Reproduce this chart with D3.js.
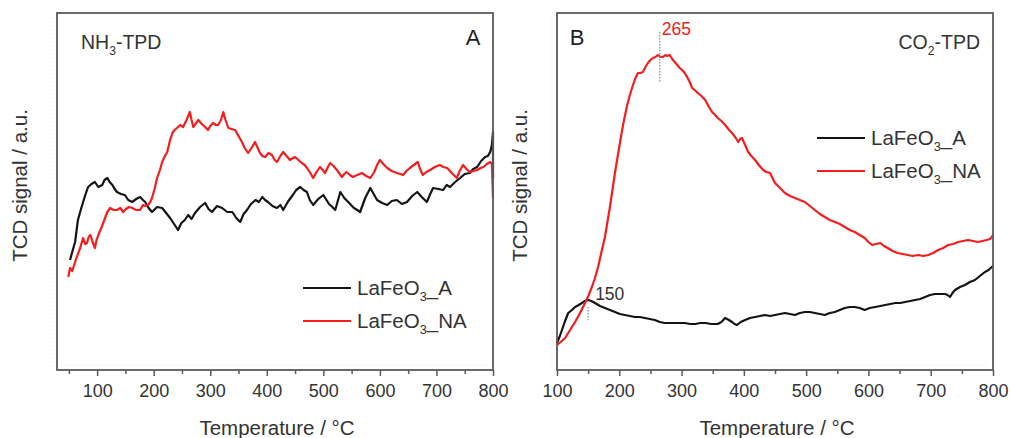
<!DOCTYPE html>
<html>
<head>
<meta charset="utf-8">
<script src="https://cdn.jsdelivr.net/npm/d3@7"></script>
<style>
  body { margin: 0; background: #fff; }
  svg { display: block; font-family: Arial, "Liberation Sans", sans-serif; }
</style>
</head>
<body>
<svg id="chart" width="1010" height="438"></svg>
<script>
// values, signal in arbitrary units (a.u.)
// NH3-TPD, [temperature, signal]
const nh3A = [[52,110],[56,118],[61,128],[66,150],[72,162],[79,175],[84,183],[90,186],[96,188],[102,183],[109,185],[113,190],[118,192],[122,188],[127,185],[131,181],[135,178],[142,176],[149,175],[155,170],[162,168],[169,171],[176,173],[181,170],[185,168],[191,162],[197,158],[206,163],[215,162],[222,157],[229,152],[236,146],[243,140],[249,147],[255,150],[261,155],[267,151],[273,157],[282,163],[291,167],[297,161],[303,158],[312,164],[321,162],[330,158],[339,158],[346,152],[353,148],[359,156],[365,160],[372,166],[380,170],[386,168],[392,173],[397,170],[402,168],[410,164],[418,162],[424,165],[429,160],[437,168],[446,175],[452,180],[459,183],[465,180],[471,178],[476,170],[482,165],[491,171],[500,175],[510,166],[516,163],[521,160],[526,170],[530,178],[537,172],[544,168],[554,162],[560,160],[565,158],[574,172],[583,182],[589,176],[595,170],[604,167],[613,165],[621,169],[630,170],[639,166],[648,168],[657,174],[666,178],[674,173],[683,168],[689,176],[694,182],[703,181],[712,180],[718,185],[724,183],[733,188],[742,192],[750,196],[759,197],[765,201],[772,203],[779,209],[786,213],[791,214],[795,218],[798,225],[800,238],[800,192]];

const nh3NA = [[49,93],[52,102],[56,99],[61,108],[66,116],[70,122],[75,132],[79,126],[82,127],[85,133],[88,135],[92,128],[96,122],[99,130],[102,135],[108,143],[114,152],[118,158],[123,162],[129,160],[135,160],[141,162],[146,158],[151,161],[156,163],[162,162],[169,160],[176,160],[181,165],[186,164],[190,165],[194,168],[197,172],[202,182],[206,192],[211,200],[215,208],[220,214],[224,218],[229,230],[233,237],[237,240],[241,242],[247,245],[252,243],[258,250],[264,258],[267,250],[270,243],[275,247],[279,250],[285,246],[291,243],[296,240],[300,244],[305,247],[310,245],[314,245],[319,250],[323,258],[327,250],[332,242],[338,241],[344,240],[350,234],[356,228],[361,222],[367,217],[373,222],[379,228],[384,222],[388,217],[392,214],[397,213],[403,217],[409,215],[414,210],[418,208],[424,214],[429,218],[435,214],[441,210],[446,212],[450,213],[456,210],[462,207],[467,205],[471,202],[477,197],[482,192],[488,198],[494,203],[499,200],[503,197],[508,203],[512,207],[518,204],[524,200],[529,196],[533,193],[537,196],[541,198],[547,195],[552,193],[560,195],[568,197],[576,194],[583,192],[590,198],[595,205],[598,208],[600,210],[606,206],[613,202],[621,199],[630,197],[636,196],[641,195],[647,199],[653,202],[660,205],[667,208],[671,201],[676,195],[682,198],[689,200],[697,203],[706,205],[712,203],[719,202],[727,197],[736,192],[741,199],[747,205],[753,201],[759,198],[766,199],[772,200],[778,202],[783,203],[789,206],[795,208],[798,206],[800,172]];

// CO2-TPD, [temperature, signal]
const co2A = [[100,27],[104,33],[108,40],[113,49],[118,57],[124,60],[129,63],[135,65],[140,67],[145,69],[150,70],[155,69],[161,67],[169,64],[177,62],[185,60],[193,58],[201,56],[209,55],[217,54],[225,53],[233,53],[241,52],[249,51],[257,50],[265,48],[273,47],[281,47],[289,47],[297,47],[305,47],[314,46],[322,46],[330,47],[338,47],[348,46],[358,46],[364,48],[370,52],[376,50],[381,48],[385,46],[389,45],[395,48],[402,50],[410,52],[418,53],[426,54],[434,55],[442,54],[450,55],[458,56],[466,57],[474,56],[482,55],[490,57],[498,58],[506,58],[514,57],[522,56],[530,55],[538,57],[546,58],[554,60],[562,62],[570,63],[578,63],[586,62],[594,60],[602,62],[611,63],[619,64],[627,65],[635,66],[643,67],[651,67],[659,68],[667,69],[675,70],[683,71],[691,73],[699,75],[707,76],[715,76],[723,76],[727,75],[731,73],[735,77],[739,80],[747,83],[755,85],[763,88],[771,90],[779,94],[787,98],[793,100],[798,103],[800,104]];

const co2NA = [[100,25],[106,28],[113,32],[121,40],[129,48],[137,57],[145,67],[151,75],[156,83],[161,92],[166,103],[171,117],[177,133],[181,148],[185,163],[189,180],[193,197],[197,212],[201,227],[206,245],[212,263],[217,275],[222,285],[226,292],[230,297],[234,297],[238,298],[242,303],[246,307],[250,310],[254,312],[258,313],[262,315],[266,313],[270,313],[274,315],[277,314],[281,315],[285,311],[289,308],[293,305],[297,302],[301,300],[305,297],[309,293],[313,288],[317,282],[321,280],[326,277],[332,274],[338,270],[343,264],[349,258],[354,255],[358,252],[364,249],[370,245],[375,241],[381,237],[386,233],[391,228],[394,231],[397,232],[402,225],[407,218],[412,214],[418,210],[424,205],[431,200],[436,198],[442,197],[446,192],[450,187],[458,182],[466,177],[474,174],[482,172],[490,170],[498,168],[506,164],[514,160],[522,156],[530,153],[538,150],[546,148],[554,146],[562,143],[570,140],[578,138],[586,135],[594,132],[600,128],[606,125],[612,126],[619,127],[625,124],[631,122],[639,119],[647,117],[655,116],[663,115],[671,114],[680,115],[688,114],[696,115],[704,117],[712,120],[720,122],[728,125],[736,126],[744,128],[752,129],[760,130],[768,129],[776,128],[783,129],[790,130],[795,131],[798,133],[800,135]];

const tickValues = [100, 200, 300, 400, 500, 600, 700, 800];
const seriesNames = ["LaFeO3_A", "LaFeO3_NA"];
const seriesColors = ["#141414", "#f51d1d"];

const svg = d3.select("#chart");
const plotTop = 13, plotBottom = 370;
const y = d3.scaleLinear().domain([0, 357]).range([plotBottom, plotTop]);

const line = d3.line()
  .x(d => d[0])
  .y(d => d[1]);

// text with a subscript digit, shifts given in px so they cancel out
const subText = (sel, size, before, sub, after) => {
  const shift = Math.round(size * 0.3);
  sel.attr("font-size", size);
  sel.append("tspan").text(before);
  sel.append("tspan").attr("font-size", size * 0.62).attr("dy", shift).text(sub);
  sel.append("tspan").attr("dy", -shift).text(after);
};

const drawPanel = (p) => {
  const x = d3.scaleLinear().domain(p.domain).range([p.left, p.right]);
  const g = svg.append("g");

  // faint dotted guide lines of the original plot
  g.append("line")
    .attr("x1", p.left + 4).attr("x2", p.right - 4)
    .attr("y1", plotBottom - 5).attr("y2", plotBottom - 5)
    .attr("stroke", "#e4dede").attr("stroke-dasharray", "1,3");
  g.append("line")
    .attr("x1", p.left - 5).attr("x2", p.left - 5)
    .attr("y1", plotTop + 4).attr("y2", plotBottom - 4)
    .attr("stroke", "#e4dede").attr("stroke-dasharray", "1,3");

  // curves
  [p.a, p.na].forEach((s, i) => {
    g.append("path")
      .attr("d", line(s.map(d => [x(d[0]), y(d[1])])))
      .attr("fill", "none")
      .attr("stroke", seriesColors[i])
      .attr("stroke-width", 2.2)
      .attr("stroke-linejoin", "round");
  });

  // frame
  g.append("rect")
    .attr("x", p.left).attr("y", plotTop)
    .attr("width", p.right - p.left).attr("height", plotBottom - plotTop)
    .attr("fill", "none").attr("stroke", "#5a5a5a").attr("stroke-width", 1.8);

  // minor ticks
  const minor = d3.range(p.domain[0] <= 50 ? 50 : 150, 800, 100);
  g.append("g")
    .attr("transform", "translate(0," + plotBottom + ")")
    .call(d3.axisBottom(x).tickValues(minor).tickSize(4).tickFormat(""))
    .call(a => a.select(".domain").remove())
    .call(a => a.selectAll("line").attr("stroke", "#5a5a5a").attr("stroke-width", 1.5));

  // major ticks and labels
  g.append("g")
    .attr("transform", "translate(0," + plotBottom + ")")
    .call(d3.axisBottom(x).tickValues(tickValues).tickSize(6).tickPadding(8).tickFormat(d3.format("d")))
    .call(a => a.select(".domain").remove())
    .call(a => a.selectAll("line").attr("stroke", "#5a5a5a").attr("stroke-width", 1.5))
    .call(a => a.selectAll("text")
      .attr("font-size", 18)
      .attr("font-family", "Arial, 'Liberation Sans', sans-serif")
      .attr("fill", "#333"));

  // axis titles
  g.append("text")
    .attr("x", (p.left + p.right) / 2 + p.titleShift).attr("y", 435)
    .attr("text-anchor", "middle").attr("font-size", 20.5).attr("fill", "#333")
    .text("Temperature / °C");

  g.append("text")
    .attr("transform", "translate(" + (p.left - 30) + "," + ((plotTop + plotBottom) / 2 - 6) + ") rotate(-90)")
    .attr("text-anchor", "middle").attr("font-size", 20.5).attr("fill", "#333")
    .text("TCD signal / a.u.");

  // panel letter and gas label
  g.append("text")
    .attr("x", p.letterX).attr("y", 45)
    .attr("text-anchor", "middle").attr("font-size", 22).attr("fill", "#222")
    .text(p.letter);

  g.append("text")
    .attr("x", p.gasX).attr("y", 49)
    .attr("text-anchor", p.gasAnchor).attr("fill", "#333")
    .call(t => subText(t, 19.5, p.gas[0], p.gas[1], p.gas[2]));

  // legend
  seriesNames.forEach((name, i) => {
    const ly = p.legendY + i * 33;
    g.append("line")
      .attr("x1", p.legendX).attr("x2", p.legendX + 48)
      .attr("y1", ly).attr("y2", ly)
      .attr("stroke", seriesColors[i]).attr("stroke-width", 2.2);
    g.append("text")
      .attr("x", p.legendX + 54).attr("y", ly + 7)
      .attr("fill", "#333")
      .call(t => subText(t, 20.5, "LaFeO", "3", name.slice(6)));
  });

  // peak markers
  (p.peaks || []).forEach(pk => {
    g.append("line")
      .attr("x1", x(pk.t)).attr("x2", x(pk.t))
      .attr("y1", y(pk.from)).attr("y2", y(pk.to))
      .attr("stroke", "#888").attr("stroke-width", 1.2).attr("stroke-dasharray", "1.5,1.5");
    g.append("text")
      .attr("x", x(pk.t) + pk.dx).attr("y", y(pk.from) + pk.dy)
      .attr("font-size", 17.5).attr("fill", pk.color)
      .text(pk.t);
  });
};

drawPanel({
  left: 57, right: 493, domain: [29, 800], titleShift: 2,
  a: nh3A, na: nh3NA,
  letter: "A", letterX: 473,
  gas: ["NH", "3", "-TPD"], gasX: 81, gasAnchor: "start",
  legendX: 303, legendY: 288
});

drawPanel({
  left: 557, right: 993, domain: [100, 800], titleShift: 2,
  a: co2A, na: co2NA,
  letter: "B", letterX: 577,
  gas: ["CO", "2", "-TPD"], gasX: 980, gasAnchor: "end",
  legendX: 817, legendY: 138,
  peaks: [
    {t: 265, from: 338, to: 288, dx: 2, dy: 3, color: "#f02020"},
    {t: 150, from: 63, to: 50, dx: 7, dy: -7, color: "#333"}
  ]
});
</script>
</body>
</html>
